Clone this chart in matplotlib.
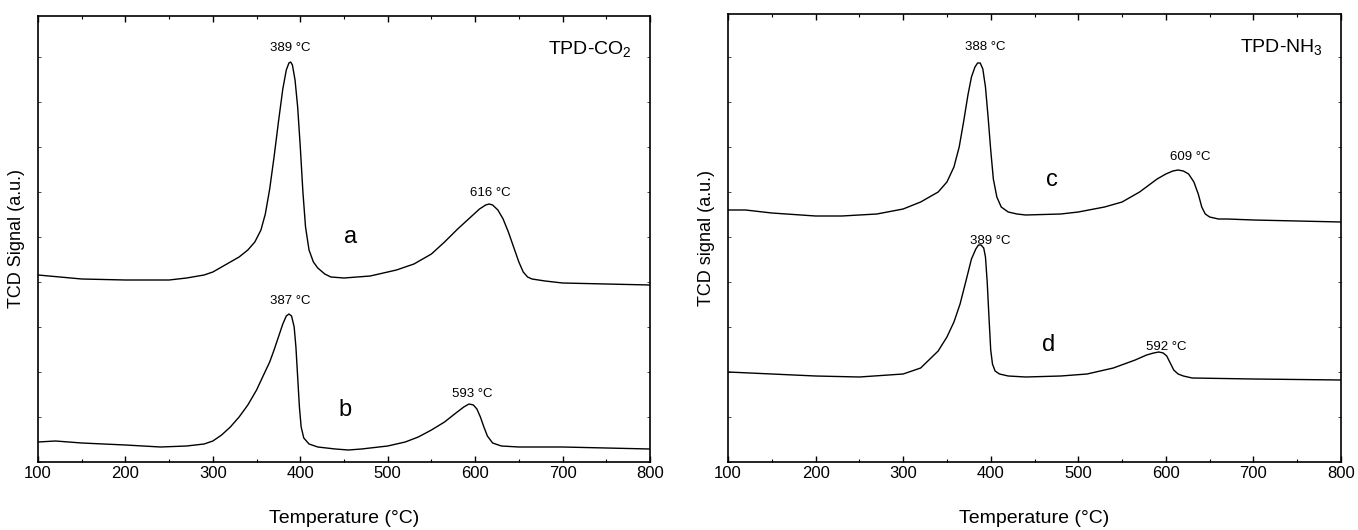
import matplotlib
matplotlib.use("Agg")
import matplotlib.pyplot as plt
from matplotlib.ticker import MultipleLocator, NullFormatter

plt.rcParams["font.family"] = ["Liberation Sans", "DejaVu Sans"]

# TPD-CO2 curves (signal in arbitrary units)
temp_a = [100, 150, 200, 250, 270, 290, 300, 310, 320, 330, 340, 348, 355, 360, 365,
          370, 375, 380, 384, 387, 389, 391, 394, 397, 400, 403, 406, 410, 415, 420,
          428, 435, 450, 480, 510, 530, 550, 565, 580, 595, 605, 612, 616, 620, 626,
          632, 638, 644, 650, 655, 660, 665, 680, 700, 750, 800]
sig_a = [187, 183, 182, 182, 184, 187, 190, 195, 200, 205, 212, 220, 232, 248, 273,
         305, 340, 373, 392, 399, 400, 397, 382, 355, 315, 270, 235, 212, 200, 194,
         188, 185, 184, 186, 192, 198, 208, 220, 233, 245, 253, 257, 258, 257, 252,
         243, 230, 215, 200, 190, 185, 183, 181, 179, 178, 177]

temp_b = [100, 120, 150, 200, 240, 270, 290, 300, 310, 320, 330, 340, 350, 358, 365,
          370, 375, 380, 384, 387, 390, 393, 395, 397, 399, 401, 404, 410, 420, 440,
          455, 470, 500, 520, 535, 550, 565, 578, 587, 593, 598, 602, 606, 610, 614,
          620, 630, 650, 700, 750, 800]
sig_b = [20, 21, 19, 17, 15, 16, 18, 21, 27, 35, 45, 57, 72, 87, 100,
         112, 125, 138, 146, 148, 146, 135, 115, 85, 55, 35, 24, 18, 15, 13,
         12, 13, 16, 20, 25, 32, 40, 49, 55, 58, 57, 53, 45, 35, 26,
         19, 16, 15, 15, 14, 13]

# TPD-NH3 curves
temp_c = [100, 120, 150, 200, 230, 270, 300, 320, 340, 350, 358, 364, 369, 374, 378,
          382, 385, 388, 391, 394, 397, 400, 403, 407, 412, 420, 430, 440, 480, 500,
          530, 550, 570, 590, 600, 608, 614, 620, 626, 632, 637, 641, 645, 650, 660,
          670, 700, 750, 800]
sig_c = [252, 252, 249, 246, 246, 248, 253, 260, 270, 280, 295, 315, 340, 367, 385,
         395, 399, 399, 393, 375, 345, 312, 283, 265, 255, 250, 248, 247, 248, 250,
         255, 260, 270, 283, 288, 291, 292, 291, 288, 280, 268, 255, 248, 245, 243,
         243, 242, 241, 240]

temp_d = [100, 150, 200, 250, 300, 320, 340, 350, 358, 365, 372, 378, 383, 386, 389,
          392, 394, 396, 398, 400, 402, 405, 410, 420, 440, 480, 510, 540, 565, 578,
          586, 592, 597, 601, 605, 609, 614, 620, 630, 700, 800]
sig_d = [90, 88, 86, 85, 88, 94, 111, 125, 140, 158, 182, 203, 213, 217, 217,
         214, 205, 180, 145, 112, 98, 91, 88, 86, 85, 86, 88, 94, 102, 107,
         109, 110, 109, 106, 99, 92, 88, 86, 84, 83, 82]

peak_labels_left = [(389, 408, "389 \u00b0C"), (617, 263, "616 \u00b0C"),
                    (388, 155, "387 \u00b0C"), (597, 62, "593 \u00b0C")]
peak_labels_right = [(394, 409, "388 \u00b0C"), (628, 299, "609 \u00b0C"),
                     (400, 215, "389 \u00b0C"), (600, 109, "592 \u00b0C")]

fig = plt.figure(figsize=(13.58, 5.30), dpi=100)
ax1 = fig.add_axes([38 / 1358, 68 / 530, 612 / 1358, 446 / 530])
ax2 = fig.add_axes([728 / 1358, 68 / 530, 613 / 1358, 448 / 530])

ax1.plot(temp_a, sig_a, color="black", lw=1.0)
ax1.plot(temp_b, sig_b, color="black", lw=1.0)
ax2.plot(temp_c, sig_c, color="black", lw=1.0)
ax2.plot(temp_d, sig_d, color="black", lw=1.0)

for ax, labels in [(ax1, peak_labels_left), (ax2, peak_labels_right)]:
    for t, s, txt in labels:
        ax.text(t, s, txt, ha="center", va="bottom", fontsize=9.5)

ax1.text(457, 225, "a", ha="center", va="center", fontsize=17)
ax1.text(451, 52, "b", ha="center", va="center", fontsize=17)
ax2.text(470, 282, "c", ha="center", va="center", fontsize=17)
ax2.text(466, 117, "d", ha="center", va="center", fontsize=17)

ax1.text(0.97, 0.925, "TPD-CO$_\\mathregular{2}$", transform=ax1.transAxes,
         ha="right", va="center", fontsize=14)
ax2.text(0.97, 0.925, "TPD-NH$_\\mathregular{3}$", transform=ax2.transAxes,
         ha="right", va="center", fontsize=14)

ax1.set_ylim(0, 446)
ax2.set_ylim(0, 448)
ax1.set_ylabel("TCD Signal (a.u.)", fontsize=13, labelpad=6)
ax2.set_ylabel("TCD signal (a.u.)", fontsize=13, labelpad=6)

for ax in (ax1, ax2):
    ax.set_xlim(100, 800)
    ax.xaxis.set_major_locator(MultipleLocator(100))
    ax.xaxis.set_minor_locator(MultipleLocator(50))
    ax.yaxis.set_major_locator(MultipleLocator(45))
    ax.yaxis.set_major_formatter(NullFormatter())
    ax.tick_params(axis="x", which="major", direction="in", length=4, width=1,
                   top=True, labelsize=12, pad=3)
    ax.tick_params(axis="x", which="minor", direction="in", length=2.5, width=0.8, top=True)
    ax.tick_params(axis="y", which="major", direction="in", length=2, width=0.5,
                   right=True, left=True)
    ax.set_xlabel("Temperature (\u00b0C)", fontsize=14, labelpad=21)
    for sp in ax.spines.values():
        sp.set_linewidth(1.2)

fig.savefig("out.png", dpi=100)
